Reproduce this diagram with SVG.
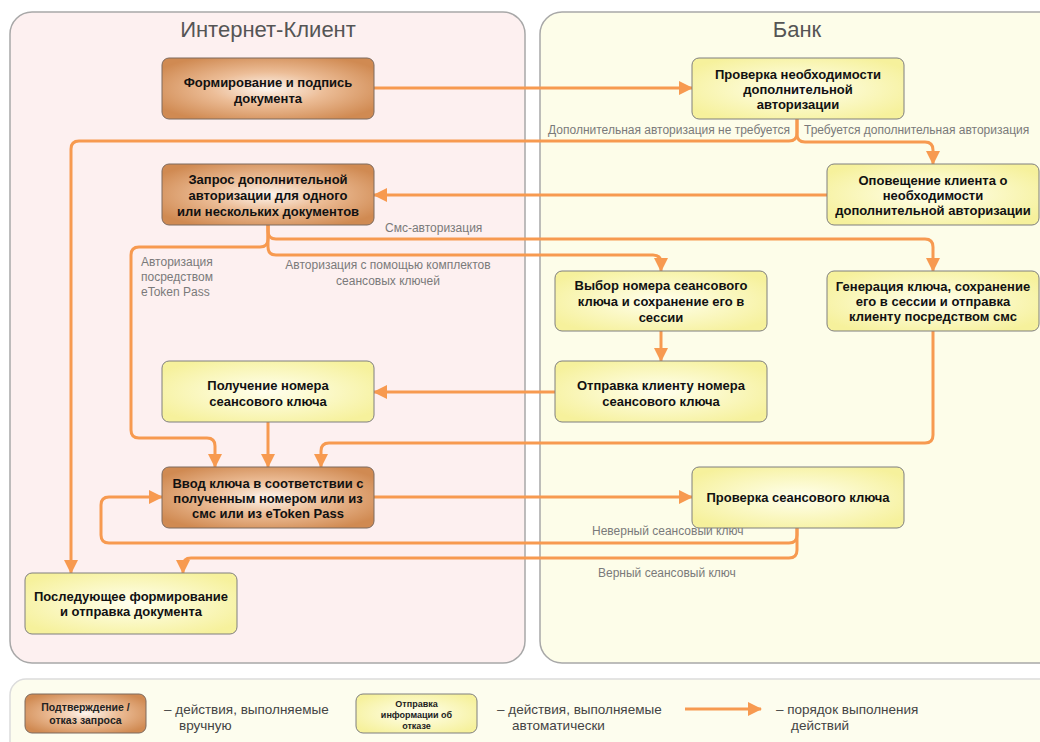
<svg xmlns="http://www.w3.org/2000/svg" width="1040" height="742" viewBox="0 0 1040 742">
<defs>
<radialGradient id="gBrown" cx="50%" cy="50%" r="60%">
<stop offset="0" stop-color="#fdf5ee"/>
<stop offset="0.45" stop-color="#ecbd97"/>
<stop offset="1" stop-color="#d08a52"/>
</radialGradient>
<radialGradient id="gYellow" cx="50%" cy="50%" r="60%">
<stop offset="0" stop-color="#ffffee"/>
<stop offset="1" stop-color="#f6f19c"/>
</radialGradient>
<marker id="arr" markerUnits="userSpaceOnUse" markerWidth="14" markerHeight="14" viewBox="0 0 14 14" refX="13" refY="7" orient="auto">
<path d="M0,0 L14,7 L0,14 Z" fill="#f79a50"/>
</marker>
<style>
.lane{stroke:#a8a8a8;stroke-width:1.5}
.title{font-family:"Liberation Sans",Arial,sans-serif;font-size:22px;fill:#555;text-anchor:middle}
.brown{fill:url(#gBrown);stroke:#7d6a5e;stroke-width:1}
.yellow{fill:url(#gYellow);stroke:#7f7f7f;stroke-width:1}
.nt{font-family:"Liberation Sans",Arial,sans-serif;font-size:13px;font-weight:bold;fill:#111;text-anchor:middle}
.lbl{font-family:"Liberation Sans",Arial,sans-serif;font-size:12px;fill:#7a7a7a}
.c{fill:none;stroke:#f79a50;stroke-width:3}
.ca{fill:none;stroke:#f79a50;stroke-width:3;marker-end:url(#arr)}
.lg{font-family:"Liberation Sans",Arial,sans-serif;font-size:13.5px;fill:#444}
.lgb{font-family:"Liberation Sans",Arial,sans-serif;font-weight:bold;fill:#222;text-anchor:middle}
</style>
</defs>
<rect x="0" y="0" width="1040" height="742" fill="#ffffff"/>
<g id="lane-client">
<rect class="lane" x="10" y="12" width="515" height="651" rx="22" fill="#fdf0f0"/>
<text class="title" x="268" y="37">Интернет-Клиент</text>
</g>
<g id="lane-bank">
<rect class="lane" x="540" y="12" width="520" height="651" rx="22" fill="#fdfde9"/>
<text class="title" x="797" y="37">Банк</text>
</g>
<g id="legend">
<rect x="10" y="679" width="1050" height="90" rx="16" fill="#fdfdee" stroke="#dcdcdc" stroke-width="1.5"/>
<rect class="brown" x="25" y="694" width="121" height="39" rx="7"/>
<text class="lgb" font-size="10.5" x="85.5" y="711">Подтверждение /</text>
<text class="lgb" font-size="10.5" x="85.5" y="724">отказ запроса</text>
<text class="lg" x="164" y="714">–  действия, выполняемые</text>
<text class="lg" x="179" y="730">вручную</text>
<rect class="yellow" x="356" y="694" width="121" height="39" rx="7"/>
<text class="lgb" font-size="9" x="416.5" y="707">Отправка</text>
<text class="lgb" font-size="9" x="416.5" y="718">информации об</text>
<text class="lgb" font-size="9" x="416.5" y="729">отказе</text>
<text class="lg" x="497" y="714">–  действия, выполняемые</text>
<text class="lg" x="512" y="730">автоматически</text>
<path class="ca" d="M685,709 H761"/>
<text class="lg" x="776" y="714">–  порядок выполнения</text>
<text class="lg" x="791" y="730">действий</text>
</g>
<g id="connectors">
<path class="ca" d="M374,88 H692"/>
<path class="ca" d="M797,119 V133 Q797,141 789,141 H79 Q71,141 71,149 V573"/>
<path class="ca" d="M797,119 V134 Q797,142 805,142 H925 Q933,142 933,150 V164"/>
<path class="ca" d="M827,195 H374"/>
<path class="ca" d="M268,225 V231 Q268,239 276,239 H925 Q933,239 933,247 V271"/>
<path class="ca" d="M268,225 V239 Q268,247 260,247 H139 Q131,247 131,255 V430 Q131,438 139,438 H207 Q215,438 215,446 V467"/>
<path class="ca" d="M268,225 V247 Q268,255 276,255 H653 Q661,255 661,263 V271"/>
<path class="ca" d="M661,331 V361"/>
<path class="ca" d="M555,392 H374"/>
<path class="ca" d="M268,422 V467"/>
<path class="ca" d="M933,331 V435 Q933,443 925,443 H329 Q321,443 321,451 V467"/>
<path class="ca" d="M374,497 H692"/>
<path class="ca" d="M797,528 V535 Q797,543 789,543 H109 Q101,543 101,535 V505 Q101,497 109,497 H162"/>
<path class="ca" d="M797,528 V550 Q797,558 789,558 H191 Q183,558 183,566 V573"/>
<text class="lbl" x="790" y="134" text-anchor="end">Дополнительная авторизация не требуется</text>
<text class="lbl" x="804" y="134">Требуется дополнительная авторизация</text>
<text class="lbl" x="385" y="232">Смс-авторизация</text>
<text class="lbl" x="141" y="266">Авторизация</text>
<text class="lbl" x="141" y="281">посредством</text>
<text class="lbl" x="141" y="296">eToken Pass</text>
<text class="lbl" x="388" y="269" text-anchor="middle">Авторизация с помощью комплектов</text>
<text class="lbl" x="388" y="285" text-anchor="middle">сеансовых ключей</text>
<text class="lbl" x="592" y="535">Неверный сеансовый ключ</text>
<text class="lbl" x="598" y="577">Верный сеансовый ключ</text>
</g>
<g id="n-form">
<rect class="brown" x="162" y="58" width="212" height="61" rx="7"/>
<text class="nt" x="268" y="87">Формирование и подпись</text>
<text class="nt" x="268" y="103">документа</text>
</g>
<g id="n-check-need">
<rect class="yellow" x="692" y="58" width="212" height="61" rx="7"/>
<text class="nt" x="798" y="79">Проверка необходимости</text>
<text class="nt" x="798" y="94">дополнительной</text>
<text class="nt" x="798" y="109">авторизации</text>
</g>
<g id="n-request">
<rect class="brown" x="162" y="164" width="212" height="61" rx="7"/>
<text class="nt" x="268" y="184">Запрос дополнительной</text>
<text class="nt" x="268" y="200">авторизации для одного</text>
<text class="nt" x="268" y="216">или нескольких документов</text>
</g>
<g id="n-notify">
<rect class="yellow" x="827" y="164" width="212" height="61" rx="7"/>
<text class="nt" x="933" y="185" font-size="11">Оповещение клиента о</text>
<text class="nt" x="933" y="200" font-size="11">необходимости</text>
<text class="nt" x="933" y="215" font-size="11">дополнительной авторизации</text>
</g>
<g id="n-choose">
<rect class="yellow" x="555" y="271" width="212" height="60" rx="7"/>
<text class="nt" x="661" y="290">Выбор номера сеансового</text>
<text class="nt" x="661" y="306">ключа и сохранение его в</text>
<text class="nt" x="661" y="322">сессии</text>
</g>
<g id="n-generate">
<rect class="yellow" x="827" y="271" width="212" height="60" rx="7"/>
<text class="nt" x="933" y="291" font-size="11">Генерация ключа, сохранение</text>
<text class="nt" x="933" y="306" font-size="11">его в сессии и отправка</text>
<text class="nt" x="933" y="321" font-size="11">клиенту посредством смс</text>
</g>
<g id="n-send-num">
<rect class="yellow" x="555" y="361" width="212" height="61" rx="7"/>
<text class="nt" x="661" y="390">Отправка клиенту номера</text>
<text class="nt" x="661" y="406">сеансового ключа</text>
</g>
<g id="n-get-num">
<rect class="yellow" x="162" y="361" width="212" height="61" rx="7"/>
<text class="nt" x="268" y="390">Получение номера</text>
<text class="nt" x="268" y="406">сеансового ключа</text>
</g>
<g id="n-enter">
<rect class="brown" x="162" y="467" width="212" height="61" rx="7"/>
<text class="nt" x="268" y="488">Ввод ключа в соответствии с</text>
<text class="nt" x="268" y="503">полученным номером или из</text>
<text class="nt" x="268" y="518">смс или из eToken Pass</text>
</g>
<g id="n-check-key">
<rect class="yellow" x="692" y="467" width="212" height="61" rx="7"/>
<text class="nt" x="798" y="502">Проверка сеансового ключа</text>
</g>
<g id="n-final">
<rect class="yellow" x="25" y="573" width="212" height="61" rx="7"/>
<text class="nt" x="131" y="601">Последующее формирование</text>
<text class="nt" x="131" y="616">и отправка документа</text>
</g>
</svg>
